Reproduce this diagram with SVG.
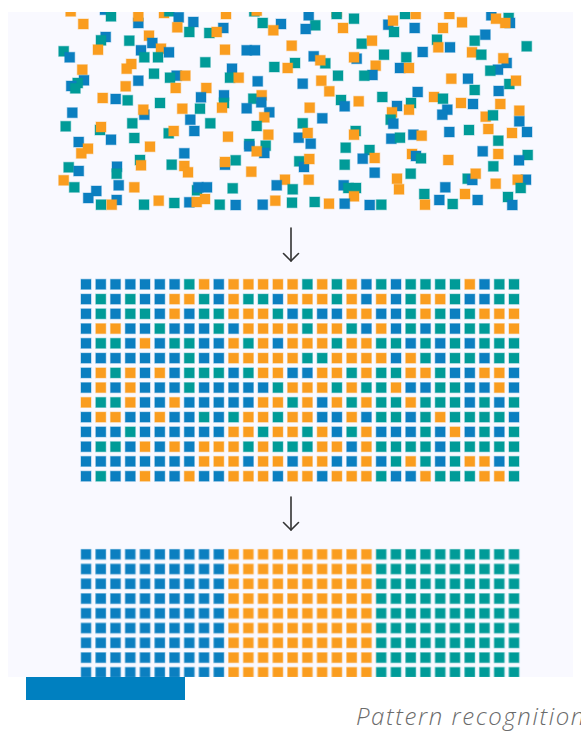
<svg xmlns="http://www.w3.org/2000/svg" xmlns:xlink="http://www.w3.org/1999/xlink" width="581" height="733" viewBox="0 0 581 733">
<style>
.b{fill:#0b7fc0;stroke:#0b7fc0}
.o{fill:#fa9d1f;stroke:#fa9d1f}
.t{fill:#009b98;stroke:#009b98}
.sq{stroke-opacity:.35;stroke-width:1.2}
.arr{fill:none;stroke:#333;stroke-width:1.6;stroke-linecap:round;stroke-linejoin:round}
.cap{font-family:"Open Sans","Liberation Sans",sans-serif;font-style:italic;font-weight:300;font-size:24px;letter-spacing:1.6px;fill:#6b6b6b}
</style>
<defs>
<rect id="b" class="b sq" width="10" height="10"/>
<rect id="o" class="o sq" width="10" height="10"/>
<rect id="t" class="t sq" width="10" height="10"/>
<clipPath id="bgclip"><rect x="8" y="12" width="565" height="665"/></clipPath>
<pattern id="pb" patternUnits="userSpaceOnUse" x="80.4" y="548.7" width="14.76" height="14.76"><rect class="b sq" x="0.6" y="0.6" width="10" height="10"/></pattern>
<pattern id="po" patternUnits="userSpaceOnUse" x="80.4" y="548.7" width="14.76" height="14.76"><rect class="o sq" x="0.6" y="0.6" width="10" height="10"/></pattern>
<pattern id="pt" patternUnits="userSpaceOnUse" x="80.4" y="548.7" width="14.76" height="14.76"><rect class="t sq" x="0.6" y="0.6" width="10" height="10"/></pattern>
</defs>
<rect id="background" x="8" y="12" width="565" height="665" fill="#f9f9ff"/>
<g clip-path="url(#bgclip)">
<g id="scatter">
<use href="#o" x="65.7" y="6.3"/><use href="#b" x="100" y="4.7"/><use href="#t" x="106" y="11.3"/><use href="#b" x="133.3" y="18"/><use href="#o" x="133.3" y="11.3"/><use href="#o" x="159" y="8"/><use href="#t" x="164.3" y="6.3"/><use href="#b" x="173.7" y="12.3"/><use href="#b" x="188.3" y="17"/><use href="#o" x="172.3" y="22.3"/><use href="#t" x="184.3" y="27"/><use href="#t" x="204.3" y="28"/><use href="#o" x="78.3" y="19"/><use href="#b" x="100.7" y="32"/><use href="#t" x="96" y="35.3"/><use href="#t" x="124.3" y="35.7"/><use href="#o" x="144" y="30.7"/><use href="#b" x="147.3" y="38"/><use href="#b" x="136" y="45.3"/><use href="#o" x="156" y="43.7"/><use href="#t" x="139.3" y="52.3"/><use href="#t" x="153" y="52.3"/><use href="#b" x="164" y="47.3"/><use href="#t" x="58.7" y="46.3"/><use href="#b" x="64.7" y="52.3"/><use href="#o" x="93" y="44.7"/><use href="#t" x="200.3" y="57.3"/><use href="#o" x="77.3" y="64.7"/><use href="#o" x="126.3" y="59"/><use href="#o" x="121.7" y="63.7"/><use href="#t" x="149" y="68.7"/><use href="#b" x="171.7" y="70.7"/><use href="#o" x="180.3" y="70.7"/><use href="#t" x="165" y="72.7"/><use href="#b" x="79" y="75.3"/><use href="#t" x="72.7" y="78"/><use href="#b" x="66.3" y="81"/><use href="#t" x="70.3" y="83.3"/><use href="#b" x="133.3" y="75.7"/><use href="#o" x="120.7" y="81.3"/><use href="#o" x="170.7" y="83"/><use href="#o" x="201.3" y="83"/><use href="#o" x="97.7" y="93"/><use href="#b" x="110.7" y="94"/><use href="#t" x="122.7" y="95.3"/><use href="#t" x="155" y="98"/><use href="#b" x="196" y="92.3"/><use href="#b" x="139.3" y="109.7"/><use href="#o" x="138.3" y="104.7"/><use href="#o" x="177.3" y="103.7"/><use href="#t" x="195" y="103.7"/><use href="#b" x="67.3" y="107.7"/><use href="#b" x="185.3" y="114.7"/><use href="#t" x="127.3" y="118.3"/><use href="#t" x="205.3" y="118.3"/><use href="#t" x="60.7" y="121.3"/><use href="#t" x="95" y="125"/><use href="#o" x="96" y="122"/><use href="#t" x="163.7" y="128.3"/><use href="#o" x="168.7" y="126"/><use href="#b" x="189.3" y="126"/><use href="#b" x="106" y="134.7"/><use href="#t" x="129.3" y="133"/><use href="#b" x="73.7" y="137"/><use href="#o" x="83" y="143.7"/><use href="#o" x="76.3" y="148.3"/><use href="#o" x="145" y="141.7"/><use href="#b" x="179.3" y="148.3"/><use href="#t" x="135" y="155"/><use href="#o" x="136" y="160.3"/><use href="#t" x="166.7" y="159.7"/><use href="#o" x="179.3" y="161"/><use href="#o" x="183" y="167.3"/><use href="#t" x="63.7" y="162.3"/><use href="#b" x="73.7" y="166"/><use href="#b" x="112" y="161.7"/><use href="#t" x="111.7" y="168.7"/><use href="#o" x="58.7" y="175.3"/><use href="#t" x="69.3" y="182.3"/><use href="#b" x="113.7" y="180.3"/><use href="#o" x="129.3" y="182.3"/><use href="#t" x="192" y="185.3"/><use href="#b" x="193.3" y="182.3"/><use href="#b" x="202" y="182.3"/><use href="#b" x="91.3" y="186"/><use href="#b" x="83.3" y="193"/><use href="#b" x="111.7" y="195"/><use href="#t" x="96" y="199.7"/><use href="#o" x="106.7" y="199.7"/><use href="#t" x="139" y="199.7"/><use href="#o" x="153.7" y="195.7"/><use href="#t" x="169.3" y="198"/><use href="#b" x="184.3" y="197.3"/><use href="#o" x="191.7" y="197"/><use href="#o" x="200" y="194"/>
<use href="#o" x="221" y="9"/><use href="#t" x="249.3" y="6.3"/><use href="#o" x="251.7" y="5.7"/><use href="#b" x="303.7" y="10.3"/><use href="#t" x="310.3" y="20.3"/><use href="#b" x="300.7" y="24"/><use href="#o" x="331.7" y="7"/><use href="#t" x="331.7" y="9"/><use href="#t" x="349" y="13.7"/><use href="#o" x="338" y="23"/><use href="#t" x="257.7" y="18"/><use href="#b" x="276" y="19"/><use href="#o" x="268.3" y="25.3"/><use href="#b" x="218.3" y="23"/><use href="#o" x="211.7" y="27"/><use href="#t" x="356.7" y="38.7"/><use href="#o" x="367" y="35.7"/><use href="#o" x="220" y="44.7"/><use href="#b" x="241.7" y="45.3"/><use href="#b" x="250" y="45.3"/><use href="#o" x="286.7" y="40.7"/><use href="#b" x="308.7" y="51.3"/><use href="#t" x="320.3" y="58.3"/><use href="#o" x="315.3" y="55.3"/><use href="#t" x="290" y="58"/><use href="#t" x="269.3" y="62"/><use href="#o" x="282.7" y="63"/><use href="#b" x="351.7" y="53.7"/><use href="#o" x="349" y="52.3"/><use href="#o" x="370.7" y="60.7"/><use href="#b" x="367.5" y="70"/><use href="#t" x="359.3" y="70.7"/><use href="#t" x="333" y="70.7"/><use href="#b" x="227" y="63.7"/><use href="#t" x="225" y="72.7"/><use href="#o" x="233.7" y="72.7"/><use href="#b" x="252.7" y="76.3"/><use href="#b" x="297.7" y="78.7"/><use href="#o" x="316.3" y="75.7"/><use href="#o" x="324.3" y="86.3"/><use href="#t" x="336" y="95"/><use href="#b" x="339.7" y="101.3"/><use href="#o" x="353.7" y="96.3"/><use href="#b" x="219" y="90.3"/><use href="#t" x="219" y="98"/><use href="#o" x="217" y="102.7"/><use href="#t" x="248.3" y="93.7"/><use href="#o" x="256.7" y="90.3"/><use href="#b" x="256.3" y="97.3"/><use href="#b" x="241.7" y="103.3"/><use href="#b" x="264.3" y="107.3"/><use href="#o" x="259.3" y="112.3"/><use href="#o" x="304.7" y="102.7"/><use href="#b" x="317.3" y="113.3"/><use href="#t" x="251.7" y="121"/><use href="#t" x="297.7" y="118.3"/><use href="#o" x="263.3" y="129.7"/><use href="#o" x="223" y="131.7"/><use href="#b" x="293.7" y="132.7"/><use href="#o" x="302.7" y="128"/><use href="#b" x="305.7" y="138.7"/><use href="#t" x="350.7" y="126"/><use href="#o" x="349" y="129.7"/><use href="#t" x="244.3" y="139"/><use href="#b" x="244.3" y="141.3"/><use href="#t" x="260.7" y="140.7"/><use href="#b" x="259.3" y="148"/><use href="#o" x="251.7" y="146.3"/><use href="#t" x="340.7" y="142.7"/><use href="#t" x="364.5" y="145"/><use href="#b" x="357.7" y="153.7"/><use href="#o" x="369.7" y="153"/><use href="#t" x="230.7" y="155.3"/><use href="#b" x="220" y="159.7"/><use href="#o" x="220" y="157"/><use href="#t" x="294.3" y="156.3"/><use href="#b" x="299" y="162"/><use href="#o" x="304.3" y="154"/><use href="#t" x="339.7" y="159.7"/><use href="#o" x="246.3" y="166.7"/><use href="#b" x="369.7" y="167.7"/><use href="#o" x="280" y="174.7"/><use href="#b" x="271.7" y="180.3"/><use href="#t" x="287.7" y="184.3"/><use href="#o" x="303.7" y="174.7"/><use href="#b" x="338.7" y="180.3"/><use href="#t" x="343.3" y="183"/><use href="#t" x="351" y="183"/><use href="#o" x="349" y="191.3"/><use href="#t" x="227.7" y="183.3"/><use href="#t" x="214.7" y="199.7"/><use href="#b" x="230.7" y="200"/><use href="#b" x="257.7" y="199.7"/><use href="#o" x="270.3" y="195.7"/><use href="#t" x="287" y="197.7"/><use href="#t" x="309.7" y="197"/><use href="#o" x="324" y="198.7"/><use href="#b" x="339.7" y="198.7"/><use href="#b" x="364.7" y="200"/>
<use href="#t" x="400" y="9"/><use href="#o" x="410.7" y="9"/><use href="#o" x="444.3" y="9"/><use href="#b" x="486.3" y="10.3"/><use href="#o" x="491" y="13.7"/><use href="#t" x="503.7" y="13"/><use href="#b" x="505" y="18"/><use href="#o" x="500.3" y="18"/><use href="#b" x="383.3" y="19.7"/><use href="#o" x="388" y="15.7"/><use href="#t" x="389" y="27"/><use href="#b" x="409.7" y="23"/><use href="#o" x="438" y="23"/><use href="#o" x="457" y="17.3"/><use href="#b" x="480.3" y="29.7"/><use href="#t" x="469.7" y="35.7"/><use href="#t" x="432" y="34.7"/><use href="#o" x="433.3" y="42.3"/><use href="#b" x="445" y="42.3"/><use href="#b" x="417.7" y="47"/><use href="#t" x="521.7" y="41.3"/><use href="#t" x="379" y="49.7"/><use href="#t" x="401.3" y="52.3"/><use href="#o" x="467" y="47.3"/><use href="#t" x="476.3" y="49.7"/><use href="#b" x="501.7" y="58"/><use href="#o" x="498.3" y="53.3"/><use href="#b" x="493" y="64.7"/><use href="#t" x="485.3" y="65.7"/><use href="#b" x="395" y="63"/><use href="#o" x="404" y="63"/><use href="#o" x="446.3" y="73.7"/><use href="#b" x="463" y="73.7"/><use href="#t" x="504.3" y="79"/><use href="#o" x="511" y="75.7"/><use href="#t" x="469.7" y="85"/><use href="#b" x="493.7" y="86"/><use href="#b" x="412.7" y="87"/><use href="#t" x="377.3" y="92"/><use href="#o" x="429" y="92"/><use href="#t" x="438" y="93.7"/><use href="#o" x="456" y="98"/><use href="#b" x="468" y="99"/><use href="#o" x="495.3" y="99"/><use href="#b" x="392" y="101"/><use href="#t" x="406" y="98"/><use href="#o" x="404" y="104.7"/><use href="#o" x="387" y="107.3"/><use href="#b" x="442.3" y="104.7"/><use href="#b" x="437.3" y="109.7"/><use href="#t" x="385.7" y="114.7"/><use href="#b" x="388.3" y="118.7"/><use href="#o" x="480.7" y="111.7"/><use href="#t" x="488" y="110.3"/><use href="#o" x="514.3" y="105.7"/><use href="#b" x="514.3" y="116.3"/><use href="#b" x="444.3" y="127"/><use href="#t" x="464" y="125"/><use href="#o" x="483.3" y="124"/><use href="#o" x="507" y="128"/><use href="#b" x="522" y="127"/><use href="#b" x="386.3" y="133.7"/><use href="#t" x="395" y="132.7"/><use href="#b" x="408.3" y="129.7"/><use href="#o" x="416.7" y="130.7"/><use href="#t" x="493.3" y="135.7"/><use href="#o" x="407" y="149"/><use href="#b" x="411" y="151"/><use href="#t" x="416" y="153.3"/><use href="#b" x="477.7" y="146.3"/><use href="#o" x="493.3" y="149"/><use href="#t" x="522.7" y="150"/><use href="#b" x="514" y="155.3"/><use href="#o" x="443.3" y="155"/><use href="#t" x="488.3" y="161.3"/><use href="#t" x="405.7" y="168.7"/><use href="#o" x="392" y="173.7"/><use href="#o" x="394" y="184.3"/><use href="#t" x="462.7" y="173.7"/><use href="#b" x="467.3" y="175"/><use href="#o" x="470.7" y="168.7"/><use href="#o" x="490.7" y="178.7"/><use href="#b" x="521" y="174.7"/><use href="#o" x="512.7" y="174.7"/><use href="#t" x="515.7" y="183"/><use href="#b" x="440.3" y="182.3"/><use href="#t" x="419.3" y="189"/><use href="#o" x="420" y="199.7"/><use href="#o" x="460" y="189"/><use href="#b" x="434.3" y="195"/><use href="#t" x="447.7" y="199"/><use href="#b" x="472.7" y="195"/><use href="#t" x="503" y="192"/><use href="#b" x="507.3" y="200"/><use href="#t" x="376.3" y="199.7"/>
</g>
<g id="mixed-grid">
<g transform="translate(0,279.3)"><use href="#b" x="81"/><use href="#b" x="95.8"/><use href="#b" x="110.5"/><use href="#b" x="125.3"/><use href="#b" x="140"/><use href="#b" x="154.8"/><use href="#b" x="169.6"/><use href="#t" x="184.3"/><use href="#o" x="199.1"/><use href="#b" x="213.8"/><use href="#o" x="228.6"/><use href="#o" x="243.4"/><use href="#o" x="258.1"/><use href="#o" x="272.9"/><use href="#o" x="287.6"/><use href="#t" x="302.4"/><use href="#o" x="317.2"/><use href="#t" x="331.9"/><use href="#o" x="346.7"/><use href="#b" x="361.4"/><use href="#t" x="376.2"/><use href="#b" x="391"/><use href="#t" x="405.7"/><use href="#t" x="420.5"/><use href="#t" x="435.2"/><use href="#t" x="450"/><use href="#o" x="464.8"/><use href="#b" x="479.5"/><use href="#t" x="494.3"/><use href="#t" x="509"/></g>
<g transform="translate(0,294.1)"><use href="#b" x="81"/><use href="#t" x="95.8"/><use href="#b" x="110.5"/><use href="#t" x="125.3"/><use href="#b" x="140"/><use href="#b" x="154.8"/><use href="#o" x="169.6"/><use href="#o" x="184.3"/><use href="#t" x="199.1"/><use href="#b" x="213.8"/><use href="#o" x="228.6"/><use href="#t" x="243.4"/><use href="#t" x="258.1"/><use href="#b" x="272.9"/><use href="#o" x="287.6"/><use href="#o" x="302.4"/><use href="#o" x="317.2"/><use href="#t" x="331.9"/><use href="#o" x="346.7"/><use href="#b" x="361.4"/><use href="#o" x="376.2"/><use href="#b" x="391"/><use href="#t" x="405.7"/><use href="#o" x="420.5"/><use href="#o" x="435.2"/><use href="#t" x="450"/><use href="#b" x="464.8"/><use href="#b" x="479.5"/><use href="#t" x="494.3"/><use href="#t" x="509"/></g>
<g transform="translate(0,308.8)"><use href="#b" x="81"/><use href="#t" x="95.8"/><use href="#b" x="110.5"/><use href="#t" x="125.3"/><use href="#t" x="140"/><use href="#b" x="154.8"/><use href="#o" x="169.6"/><use href="#b" x="184.3"/><use href="#t" x="199.1"/><use href="#t" x="213.8"/><use href="#o" x="228.6"/><use href="#o" x="243.4"/><use href="#o" x="258.1"/><use href="#t" x="272.9"/><use href="#b" x="287.6"/><use href="#t" x="302.4"/><use href="#b" x="317.2"/><use href="#b" x="331.9"/><use href="#o" x="346.7"/><use href="#o" x="361.4"/><use href="#b" x="376.2"/><use href="#b" x="391"/><use href="#t" x="405.7"/><use href="#o" x="420.5"/><use href="#t" x="435.2"/><use href="#b" x="450"/><use href="#t" x="464.8"/><use href="#o" x="479.5"/><use href="#o" x="494.3"/><use href="#o" x="509"/></g>
<g transform="translate(0,323.6)"><use href="#b" x="81"/><use href="#o" x="95.8"/><use href="#o" x="110.5"/><use href="#b" x="125.3"/><use href="#b" x="140"/><use href="#t" x="154.8"/><use href="#b" x="169.6"/><use href="#b" x="184.3"/><use href="#b" x="199.1"/><use href="#t" x="213.8"/><use href="#b" x="228.6"/><use href="#o" x="243.4"/><use href="#o" x="258.1"/><use href="#o" x="272.9"/><use href="#o" x="287.6"/><use href="#t" x="302.4"/><use href="#o" x="317.2"/><use href="#o" x="331.9"/><use href="#t" x="346.7"/><use href="#b" x="361.4"/><use href="#o" x="376.2"/><use href="#b" x="391"/><use href="#t" x="405.7"/><use href="#b" x="420.5"/><use href="#t" x="435.2"/><use href="#b" x="450"/><use href="#t" x="464.8"/><use href="#t" x="479.5"/><use href="#o" x="494.3"/><use href="#o" x="509"/></g>
<g transform="translate(0,338.3)"><use href="#b" x="81"/><use href="#t" x="95.8"/><use href="#t" x="110.5"/><use href="#b" x="125.3"/><use href="#o" x="140"/><use href="#b" x="154.8"/><use href="#t" x="169.6"/><use href="#t" x="184.3"/><use href="#b" x="199.1"/><use href="#b" x="213.8"/><use href="#o" x="228.6"/><use href="#t" x="243.4"/><use href="#o" x="258.1"/><use href="#b" x="272.9"/><use href="#o" x="287.6"/><use href="#o" x="302.4"/><use href="#o" x="317.2"/><use href="#t" x="331.9"/><use href="#o" x="346.7"/><use href="#o" x="361.4"/><use href="#t" x="376.2"/><use href="#t" x="391"/><use href="#b" x="405.7"/><use href="#t" x="420.5"/><use href="#b" x="435.2"/><use href="#t" x="450"/><use href="#b" x="464.8"/><use href="#t" x="479.5"/><use href="#t" x="494.3"/><use href="#t" x="509"/></g>
<g transform="translate(0,353.1)"><use href="#b" x="81"/><use href="#b" x="95.8"/><use href="#b" x="110.5"/><use href="#b" x="125.3"/><use href="#b" x="140"/><use href="#b" x="154.8"/><use href="#b" x="169.6"/><use href="#t" x="184.3"/><use href="#b" x="199.1"/><use href="#b" x="213.8"/><use href="#o" x="228.6"/><use href="#o" x="243.4"/><use href="#o" x="258.1"/><use href="#o" x="272.9"/><use href="#o" x="287.6"/><use href="#t" x="302.4"/><use href="#t" x="317.2"/><use href="#o" x="331.9"/><use href="#o" x="346.7"/><use href="#o" x="361.4"/><use href="#o" x="376.2"/><use href="#b" x="391"/><use href="#o" x="405.7"/><use href="#t" x="420.5"/><use href="#b" x="435.2"/><use href="#t" x="450"/><use href="#t" x="464.8"/><use href="#b" x="479.5"/><use href="#t" x="494.3"/><use href="#t" x="509"/></g>
<g transform="translate(0,367.9)"><use href="#b" x="81"/><use href="#o" x="95.8"/><use href="#t" x="110.5"/><use href="#o" x="125.3"/><use href="#b" x="140"/><use href="#o" x="154.8"/><use href="#b" x="169.6"/><use href="#t" x="184.3"/><use href="#t" x="199.1"/><use href="#t" x="213.8"/><use href="#b" x="228.6"/><use href="#t" x="243.4"/><use href="#o" x="258.1"/><use href="#o" x="272.9"/><use href="#b" x="287.6"/><use href="#b" x="302.4"/><use href="#o" x="317.2"/><use href="#o" x="331.9"/><use href="#t" x="346.7"/><use href="#o" x="361.4"/><use href="#t" x="376.2"/><use href="#t" x="391"/><use href="#o" x="405.7"/><use href="#o" x="420.5"/><use href="#t" x="435.2"/><use href="#b" x="450"/><use href="#b" x="464.8"/><use href="#o" x="479.5"/><use href="#o" x="494.3"/><use href="#b" x="509"/></g>
<g transform="translate(0,382.6)"><use href="#b" x="81"/><use href="#o" x="95.8"/><use href="#b" x="110.5"/><use href="#o" x="125.3"/><use href="#b" x="140"/><use href="#b" x="154.8"/><use href="#b" x="169.6"/><use href="#t" x="184.3"/><use href="#b" x="199.1"/><use href="#b" x="213.8"/><use href="#b" x="228.6"/><use href="#b" x="243.4"/><use href="#b" x="258.1"/><use href="#t" x="272.9"/><use href="#o" x="287.6"/><use href="#o" x="302.4"/><use href="#o" x="317.2"/><use href="#t" x="331.9"/><use href="#o" x="346.7"/><use href="#t" x="361.4"/><use href="#t" x="376.2"/><use href="#o" x="391"/><use href="#b" x="405.7"/><use href="#b" x="420.5"/><use href="#t" x="435.2"/><use href="#t" x="450"/><use href="#b" x="464.8"/><use href="#b" x="479.5"/><use href="#o" x="494.3"/><use href="#b" x="509"/></g>
<g transform="translate(0,397.4)"><use href="#o" x="81"/><use href="#t" x="95.8"/><use href="#t" x="110.5"/><use href="#o" x="125.3"/><use href="#b" x="140"/><use href="#b" x="154.8"/><use href="#o" x="169.6"/><use href="#b" x="184.3"/><use href="#b" x="199.1"/><use href="#b" x="213.8"/><use href="#b" x="228.6"/><use href="#b" x="243.4"/><use href="#o" x="258.1"/><use href="#o" x="272.9"/><use href="#t" x="287.6"/><use href="#o" x="302.4"/><use href="#b" x="317.2"/><use href="#o" x="331.9"/><use href="#t" x="346.7"/><use href="#o" x="361.4"/><use href="#t" x="376.2"/><use href="#t" x="391"/><use href="#o" x="405.7"/><use href="#t" x="420.5"/><use href="#t" x="435.2"/><use href="#t" x="450"/><use href="#b" x="464.8"/><use href="#t" x="479.5"/><use href="#b" x="494.3"/><use href="#t" x="509"/></g>
<g transform="translate(0,412.1)"><use href="#b" x="81"/><use href="#o" x="95.8"/><use href="#o" x="110.5"/><use href="#b" x="125.3"/><use href="#b" x="140"/><use href="#o" x="154.8"/><use href="#b" x="169.6"/><use href="#b" x="184.3"/><use href="#t" x="199.1"/><use href="#b" x="213.8"/><use href="#t" x="228.6"/><use href="#o" x="243.4"/><use href="#o" x="258.1"/><use href="#t" x="272.9"/><use href="#o" x="287.6"/><use href="#o" x="302.4"/><use href="#b" x="317.2"/><use href="#b" x="331.9"/><use href="#o" x="346.7"/><use href="#b" x="361.4"/><use href="#t" x="376.2"/><use href="#t" x="391"/><use href="#b" x="405.7"/><use href="#t" x="420.5"/><use href="#o" x="435.2"/><use href="#t" x="450"/><use href="#t" x="464.8"/><use href="#t" x="479.5"/><use href="#t" x="494.3"/><use href="#b" x="509"/></g>
<g transform="translate(0,426.9)"><use href="#b" x="81"/><use href="#b" x="95.8"/><use href="#b" x="110.5"/><use href="#t" x="125.3"/><use href="#b" x="140"/><use href="#b" x="154.8"/><use href="#b" x="169.6"/><use href="#b" x="184.3"/><use href="#b" x="199.1"/><use href="#b" x="213.8"/><use href="#o" x="228.6"/><use href="#o" x="243.4"/><use href="#t" x="258.1"/><use href="#o" x="272.9"/><use href="#o" x="287.6"/><use href="#t" x="302.4"/><use href="#o" x="317.2"/><use href="#b" x="331.9"/><use href="#t" x="346.7"/><use href="#o" x="361.4"/><use href="#b" x="376.2"/><use href="#b" x="391"/><use href="#b" x="405.7"/><use href="#t" x="420.5"/><use href="#b" x="435.2"/><use href="#o" x="450"/><use href="#b" x="464.8"/><use href="#t" x="479.5"/><use href="#b" x="494.3"/><use href="#t" x="509"/></g>
<g transform="translate(0,441.7)"><use href="#b" x="81"/><use href="#t" x="95.8"/><use href="#t" x="110.5"/><use href="#b" x="125.3"/><use href="#o" x="140"/><use href="#b" x="154.8"/><use href="#o" x="169.6"/><use href="#b" x="184.3"/><use href="#o" x="199.1"/><use href="#o" x="213.8"/><use href="#o" x="228.6"/><use href="#t" x="243.4"/><use href="#o" x="258.1"/><use href="#t" x="272.9"/><use href="#t" x="287.6"/><use href="#t" x="302.4"/><use href="#o" x="317.2"/><use href="#o" x="331.9"/><use href="#b" x="346.7"/><use href="#o" x="361.4"/><use href="#t" x="376.2"/><use href="#t" x="391"/><use href="#t" x="405.7"/><use href="#t" x="420.5"/><use href="#b" x="435.2"/><use href="#t" x="450"/><use href="#t" x="464.8"/><use href="#t" x="479.5"/><use href="#t" x="494.3"/><use href="#t" x="509"/></g>
<g transform="translate(0,456.4)"><use href="#b" x="81"/><use href="#b" x="95.8"/><use href="#b" x="110.5"/><use href="#b" x="125.3"/><use href="#b" x="140"/><use href="#b" x="154.8"/><use href="#b" x="169.6"/><use href="#b" x="184.3"/><use href="#o" x="199.1"/><use href="#o" x="213.8"/><use href="#o" x="228.6"/><use href="#b" x="243.4"/><use href="#o" x="258.1"/><use href="#o" x="272.9"/><use href="#b" x="287.6"/><use href="#o" x="302.4"/><use href="#o" x="317.2"/><use href="#b" x="331.9"/><use href="#b" x="346.7"/><use href="#o" x="361.4"/><use href="#b" x="376.2"/><use href="#t" x="391"/><use href="#o" x="405.7"/><use href="#t" x="420.5"/><use href="#b" x="435.2"/><use href="#t" x="450"/><use href="#o" x="464.8"/><use href="#o" x="479.5"/><use href="#b" x="494.3"/><use href="#t" x="509"/></g>
<g transform="translate(0,471.2)"><use href="#b" x="81"/><use href="#t" x="95.8"/><use href="#b" x="110.5"/><use href="#b" x="125.3"/><use href="#o" x="140"/><use href="#b" x="154.8"/><use href="#b" x="169.6"/><use href="#o" x="184.3"/><use href="#b" x="199.1"/><use href="#b" x="213.8"/><use href="#o" x="228.6"/><use href="#o" x="243.4"/><use href="#o" x="258.1"/><use href="#b" x="272.9"/><use href="#o" x="287.6"/><use href="#o" x="302.4"/><use href="#b" x="317.2"/><use href="#o" x="331.9"/><use href="#o" x="346.7"/><use href="#o" x="361.4"/><use href="#t" x="376.2"/><use href="#b" x="391"/><use href="#b" x="405.7"/><use href="#o" x="420.5"/><use href="#t" x="435.2"/><use href="#t" x="450"/><use href="#t" x="464.8"/><use href="#o" x="479.5"/><use href="#o" x="494.3"/><use href="#t" x="509"/></g>
</g>
<g id="sorted-grid">
<rect x="80.4" y="548.7" width="147.6" height="132.84" fill="url(#pb)"/>
<rect x="228" y="548.7" width="147.6" height="132.84" fill="url(#po)"/>
<rect x="375.6" y="548.7" width="145" height="132.84" fill="url(#pt)"/>
</g>
</g>
<g id="connectors">
<line class="arr" x1="291" y1="228" x2="291" y2="261"/>
<polyline class="arr" points="283.5,253.5 291,261 298.5,253.5"/>
<line class="arr" x1="291" y1="497" x2="291" y2="530"/>
<polyline class="arr" points="283.5,522.5 291,530 298.5,522.5"/>
</g>
<rect id="accent-bar" x="26" y="677" width="159" height="23" fill="#0080c0"/>
<text class="cap" x="356" y="725">Pattern recognition</text>
</svg>
